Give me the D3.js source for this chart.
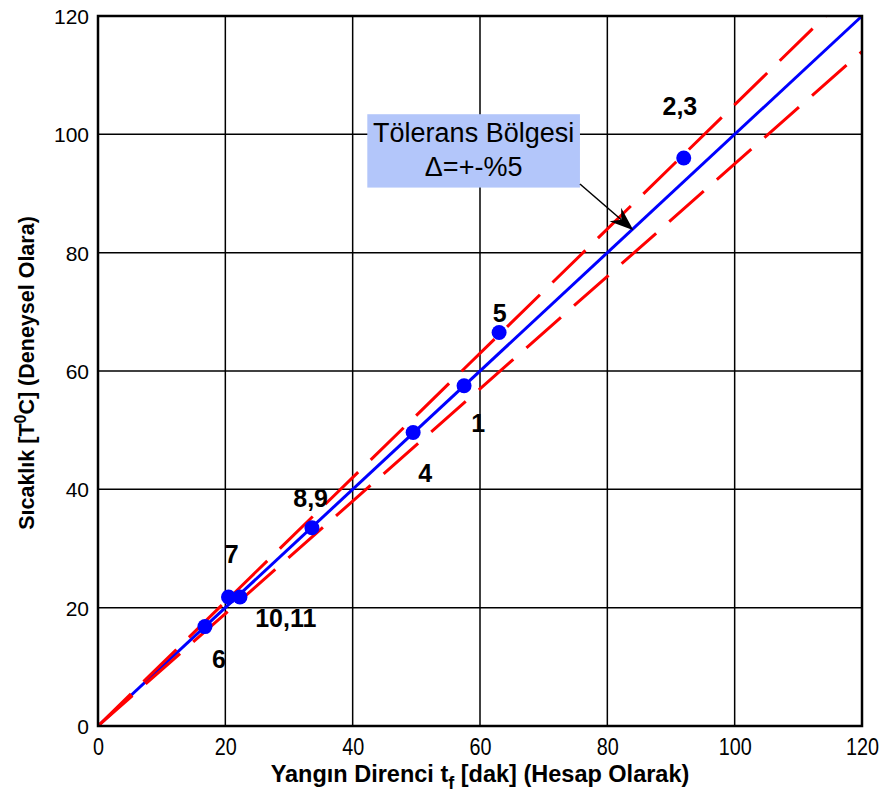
<!DOCTYPE html>
<html>
<head>
<meta charset="utf-8">
<script src="https://cdn.jsdelivr.net/npm/d3@7"></script>
<style>
  body { margin: 0; background: #fff; }
  text { font-family: Arial, "Liberation Sans", sans-serif; }
</style>
</head>
<body>
<svg id="svg"></svg>
<script>
// measured points: calculated fire resistance vs experimental temperature
const calc = [92.0, 63.0, 57.5, 49.5, 33.6, 20.5, 22.3, 16.8]
const exper = [96.0, 66.5, 57.5, 49.6, 33.5, 21.8, 21.8, 16.8]

// point labels, anchored in data units
const labelText = ["2,3", "5", "1", "4", "8,9", "7", "10,11", "6"]
const labelX = [91.4, 63.1, 59.7, 51.4, 33.4, 21.0, 29.5, 19.0]
const labelY = [103.3, 68.3, 49.7, 41.3, 37.0, 27.5, 16.8, 9.8]

const ticks = [0, 20, 40, 60, 80, 100, 120]
const tolerance = 0.05

const width = 886, height = 796
const margin = { left: 98, right: 24, top: 16, bottom: 70 }

const svg = d3.select("#svg").attr("width", width).attr("height", height)

const x = d3.scaleLinear().domain([0, 120]).range([margin.left, width - margin.right])
const y = d3.scaleLinear().domain([0, 120]).range([height - margin.bottom, margin.top])

// grid
const grid = svg.append("g")
grid.selectAll("line.vx")
  .data(ticks)
  .enter()
  .append("line")
  .attr("x1", d => x(d)).attr("x2", d => x(d))
  .attr("y1", y(0)).attr("y2", y(120))
  .attr("stroke", "#000").attr("stroke-width", 1.5)
grid.selectAll("line.hy")
  .data(ticks)
  .enter()
  .append("line")
  .attr("y1", d => y(d)).attr("y2", d => y(d))
  .attr("x1", x(0)).attr("x2", x(120))
  .attr("stroke", "#000").attr("stroke-width", 1.5)

// axes (labels only, frame drawn below)
const xAxis = svg.append("g")
  .attr("transform", `translate(0,${y(0)})`)
  .call(d3.axisBottom(x).tickValues(ticks).tickSize(0).tickPadding(0))
xAxis.select(".domain").remove()
xAxis.selectAll("text")
  .attr("font-size", 23)
  .attr("font-family", "Arial, 'Liberation Sans', sans-serif")
  .attr("fill", "#000")
  .attr("dy", null)
  .attr("y", 29)
  .attr("transform", "scale(0.86,1)")

const yAxis = svg.append("g")
  .attr("transform", `translate(${x(0)},0)`)
  .call(d3.axisLeft(y).tickValues(ticks).tickSize(0).tickPadding(9))
yAxis.select(".domain").remove()
yAxis.selectAll("text")
  .attr("font-size", 21)
  .attr("font-family", "Arial, 'Liberation Sans', sans-serif")
  .attr("fill", "#000")
  .attr("dy", "0.36em")

// ideal line and tolerance band
const line = d3.line().x(d => x(d[0])).y(d => y(d[1]))
svg.append("path")
  .attr("d", line([[0, 0], [120, 120]]))
  .attr("stroke", "#0000ff").attr("stroke-width", 3).attr("fill", "none")
svg.append("path")
  .attr("d", line([[0, 0], [120 / (1 + tolerance), 120]]))
  .attr("stroke", "#ff0000").attr("stroke-width", 3).attr("fill", "none")
  .attr("stroke-dasharray", "46,17.5")
svg.append("path")
  .attr("d", line([[0, 0], [120, 120 * (1 - tolerance)]]))
  .attr("stroke", "#ff0000").attr("stroke-width", 3).attr("fill", "none")
  .attr("stroke-dasharray", "46,17.5")

// frame
svg.append("rect")
  .attr("x", x(0)).attr("y", y(120))
  .attr("width", x(120) - x(0)).attr("height", y(0) - y(120))
  .attr("fill", "none").attr("stroke", "#000").attr("stroke-width", 2.5)

// points
svg.append("g")
  .selectAll("circle")
  .data(calc)
  .enter()
  .append("circle")
  .attr("cx", d => x(d))
  .attr("cy", (d, i) => y(exper[i]))
  .attr("r", 7.5)
  .attr("fill", "#0000ff")

svg.append("g")
  .selectAll("text")
  .data(labelText)
  .enter()
  .append("text")
  .attr("x", (d, i) => x(labelX[i]))
  .attr("y", (d, i) => y(labelY[i]))
  .attr("text-anchor", "middle")
  .attr("font-size", 25)
  .attr("font-weight", "bold")
  .text(d => d)

// annotation box + arrow
const box = { x0: 42.3, x1: 75.7, y0: 103.4, y1: 91.0 }
svg.append("rect")
  .attr("x", x(box.x0)).attr("y", y(box.y0))
  .attr("width", x(box.x1) - x(box.x0)).attr("height", y(box.y1) - y(box.y0))
  .attr("fill", "#b3c6fa")
const bx = (x(box.x0) + x(box.x1)) / 2
svg.append("text").attr("x", bx).attr("y", y(box.y0) + 28)
  .attr("text-anchor", "middle").attr("font-size", 27).text("Tölerans Bölgesi")
svg.append("text").attr("x", bx).attr("y", y(box.y0) + 62)
  .attr("text-anchor", "middle").attr("font-size", 27).text("Δ=+-%5")

const a0 = [x(75.7), y(91.6)], a1 = [x(84.1), y(83.8)]
const ang = Math.atan2(a1[1] - a0[1], a1[0] - a0[0])
const L = 24, W = 9, back = 16
const rot = (u, v) => [a1[0] + u * Math.cos(ang) - v * Math.sin(ang), a1[1] + u * Math.sin(ang) + v * Math.cos(ang)]
svg.append("line")
  .attr("x1", a0[0]).attr("y1", a0[1])
  .attr("x2", rot(-back, 0)[0]).attr("y2", rot(-back, 0)[1])
  .attr("stroke", "#000").attr("stroke-width", 1.5)
svg.append("path")
  .attr("d", "M" + [rot(0, 0), rot(-L, -W), rot(-back, 0), rot(-L, W)].map(p => p.join(",")).join("L") + "Z")
  .attr("fill", "#000")

// axis titles
const xt = svg.append("text")
  .attr("x", x(60)).attr("y", 782)
  .attr("text-anchor", "middle").attr("font-size", 23.5).attr("font-weight", "bold")
xt.append("tspan").text("Yangın Direnci t")
xt.append("tspan").attr("dy", 7).attr("font-size", 18).text("f")
xt.append("tspan").attr("dy", -7).text(" [dak] (Hesap Olarak)")

const yt = svg.append("text")
  .attr("transform", `translate(34,${(y(0) + y(120)) / 2 + 2}) rotate(-90)`)
  .attr("text-anchor", "middle").attr("font-size", 21.5).attr("font-weight", "bold")
yt.append("tspan").text("Sıcaklık [T")
yt.append("tspan").attr("dy", -8).attr("font-size", 16).text("0")
yt.append("tspan").attr("dy", 8).text("C] (Deneysel Olara)")
</script>
</body>
</html>
